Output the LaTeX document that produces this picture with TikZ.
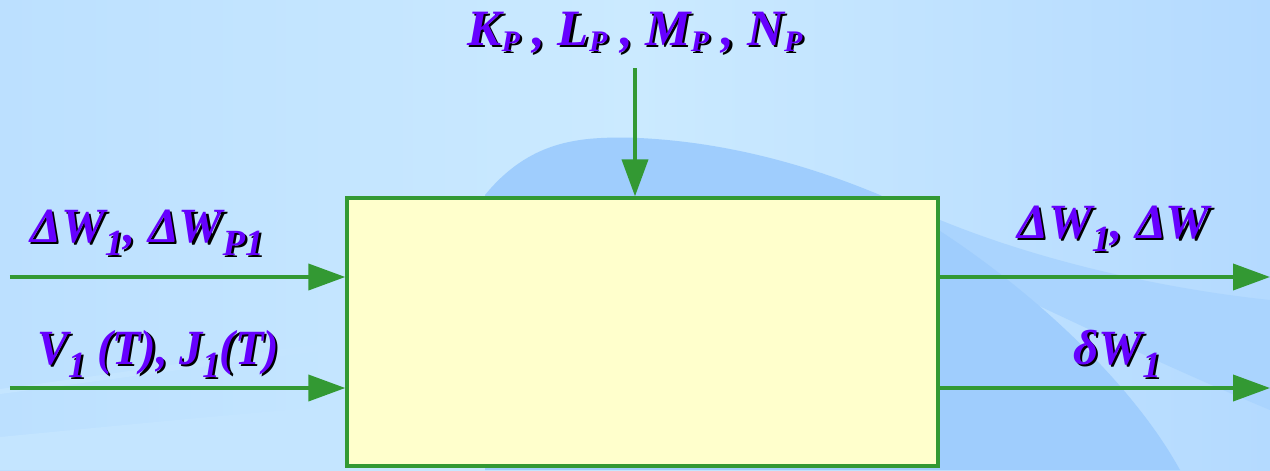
\documentclass[tikz,border=0pt]{standalone}
\usepackage{xcolor}
\usepackage{fontspec}
\setmainfont{Liberation Serif}
\newfontfamily\narrowserif[FakeStretch=0.94]{Liberation Serif}
\usepackage{tikz}
\usetikzlibrary{arrows.meta}

\definecolor{bgleft}{HTML}{BCE0FF}
\definecolor{bgmid}{HTML}{CBEAFF}
\definecolor{bgright}{HTML}{B4DAFF}
\definecolor{wavebl}{HTML}{9FCDFD}
\definecolor{bandbl}{HTML}{AAD4FE}
\definecolor{bandlt}{HTML}{C4E5FF}
\definecolor{boxyel}{HTML}{FFFFCC}
\definecolor{flowgr}{HTML}{339933}
\definecolor{labpur}{HTML}{6600FF}

\newcommand{\shd}[1]{\makebox[0pt][l]{\hspace{1.3pt}\raisebox{-1.3pt}{\color{black}#1}}#1}
\newcommand{\lo}[1]{\raisebox{-7.5pt}{\fontsize{21}{21}\selectfont #1}}
\newcommand{\tlo}[1]{\raisebox{-3.5pt}{\fontsize{17}{17}\selectfont #1}}

\tikzset{
	flow/.style={draw=flowgr, line width=2.2pt, -{Triangle[length=0.74cm,width=0.52cm]}},
	lab/.style={text=labpur, inner sep=0pt, font=\fontsize{28}{30}\selectfont\bfseries\itshape}
}

\begin{document}
\begin{tikzpicture}

	\useasboundingbox (0,0) rectangle (25.4,9.4);
	\shade[left color=bgleft, right color=bgright, middle color=bgmid] (0,0) rectangle (25.4,9.4);
	\fill[bandlt] (0,0) -- (0,0.66) .. controls (2.5,0.9) and (5,1.15) .. (7,1.3) -- (7,0) -- cycle;
	\fill[bandlt] (0,1.62) .. controls (2.5,1.95) and (5,2.35) .. (7,2.6) -- (7,2.45) .. controls (5,2.2) and (2.5,1.85) .. (0,1.52) -- cycle;
	\fill[bandbl] (18.8,5.0) .. controls (21,4.1) and (23.5,3.6) .. (25.4,3.4) -- (25.4,1.2) .. controls (23,2.2) and (21,3.2) .. (18.8,4.2) -- cycle;
	\fill[wavebl] (9.7,5.5) .. controls (10.6,6.6) and (11.6,6.65) .. (12.5,6.65) .. controls (14.6,6.6) and (16.4,6.0) .. (17.6,5.5) .. controls (20,4.2) and (22.5,2.0) .. (23.6,0) -- (9.7,0) -- cycle;

	\node[draw=flowgr, fill=boxyel, line width=1.9pt, inner sep=0pt, minimum width=11.82cm, minimum height=5.36cm] (sys) at (12.85,2.76) {};

	\coordinate (par) at (12.7,8.04);
	\coordinate (inA) at (0.2,3.86);
	\coordinate (inB) at (0.2,1.64);
	\coordinate (outA) at (25.4,3.86);
	\coordinate (outB) at (25.4,1.64);

	\draw[flow] (par) -- (par |- sys.north);
	\draw[flow] (inA) -- (inA -| sys.west);
	\draw[flow] (inB) -- (inB -| sys.west);
	\draw[flow] (inA -| sys.east) -- (outA);
	\draw[flow] (inB -| sys.east) -- (outB);

	\node[lab, anchor=base, font=\fontsize{29}{31}\selectfont\bfseries\itshape] (parlab) at (12.7,8.5) {\shd{K\tlo{P}} \shd{, L\tlo{P}} \shd{, M\tlo{P}} \shd{, N\tlo{P}}};
	\node[lab, anchor=base west] (inAlab) at (0.6,4.56) {\shd{ΔW\lo{1}, ΔW\lo{P1}}};
	\node[lab, anchor=base west, font=\fontsize{28}{30}\selectfont\narrowserif\bfseries\itshape] (inBlab) at (0.74,2.12) {\shd{V\lo{1} (T), J\lo{1}(T)}};
	\node[lab, anchor=base west] (outAlab) at (20.34,4.64) {\shd{ΔW\lo{1}, ΔW}};
	\node[lab, anchor=base west] (outBlab) at (21.46,2.12) {\shd{δW\lo{1}}};

\end{tikzpicture}
\end{document}
